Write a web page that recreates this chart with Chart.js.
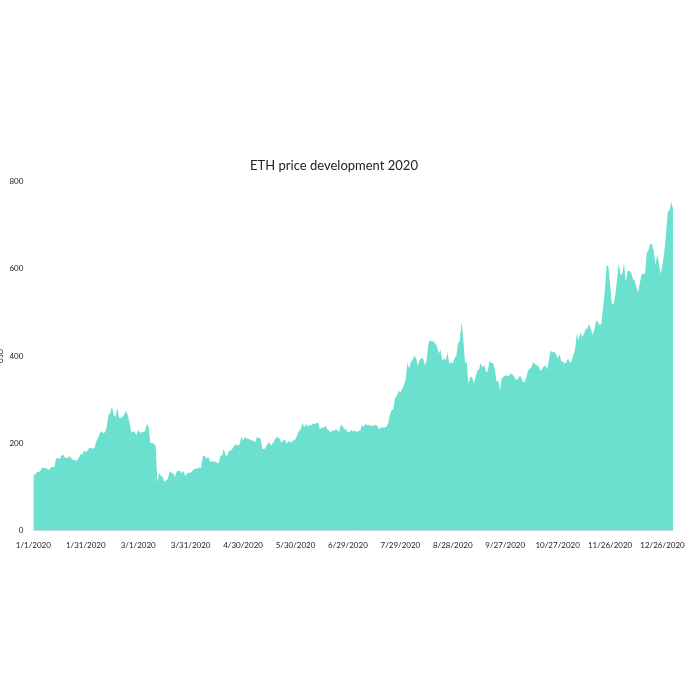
<!DOCTYPE html>
<html>
<head>
<meta charset="utf-8">
<script src="https://cdn.jsdelivr.net/npm/chart.js@4"></script>
<style>
  html, body { margin: 0; background: #fff; }
  #wrap { width: 700px; height: 700px; }
</style>
</head>
<body>
<div id="wrap"><canvas id="chart"></canvas></div>
<script>
// daily ETH closes 2020, month by month (USD)
const jan = [130,127,134,134,136,144,143,143,141,138,144,146,144,165,166,163,171,174,167,166,167,170,163,162,161,160,167,175,173,184,180];
const feb = [183,189,189,188,189,204,212,223,228,223,225,237,265,268,285,265,260,282,259,258,260,265,274,265,248,225,227,226,218];
const mar = [231,224,225,225,228,244,238,200,201,199,194,110,133,125,123,111,115,118,136,132,131,123,135,136,137,131,136,125,131,132,133];
const apr = [136,141,142,142,144,143,170,172,164,170,158,158,158,158,156,153,171,172,187,171,171,183,183,188,194,197,195,197,215,206,214];
const may = [211,210,208,207,205,202,214,212,211,188,186,190,199,202,194,200,207,214,213,210,201,207,209,199,206,201,204,207,209,219,228];
const jun = [232,247,237,244,239,241,241,245,244,246,247,232,236,235,240,233,229,225,229,228,232,229,226,243,239,232,232,225,226,230];
const jul = [226,230,225,229,228,241,238,244,241,242,240,240,240,243,238,232,236,236,236,238,245,265,275,279,305,308,320,317,324,333,345];
const aug = [385,371,386,390,401,395,378,391,395,395,379,389,428,436,433,434,428,422,406,415,388,395,391,408,382,386,382,395,400,428,435];
const sep = [478,440,385,385,335,353,351,337,351,366,369,384,373,380,364,365,389,384,384,371,341,344,321,349,352,355,355,353,360,359];
const oct = [353,346,346,353,353,341,340,350,366,371,374,386,381,379,377,366,369,376,379,369,391,413,408,410,405,394,404,389,387,383,386];
const nov = [395,384,388,403,416,453,436,454,444,450,462,463,474,462,449,460,481,478,471,474,512,550,608,606,567,519,520,540,575,613];
const dec = [586,589,614,570,595,595,592,577,573,560,545,567,587,588,589,636,643,658,656,640,610,634,610,588,610,638,680,730,734,754,738];

const prices = [].concat(jan, feb, mar, apr, may, jun, jul, aug, sep, oct, nov, dec);
const yTicks = [0, 200, 400, 600, 800];

const labels = prices.map((_, i) => {
    const d = new Date(2020, 0, 1 + i);
    return (d.getMonth() + 1) + "/" + d.getDate() + "/2020";
});

const font = "Lato, 'Noto Sans', sans-serif";

new Chart(document.getElementById("chart"), {
    type: "line",
    data: {
        labels,
        datasets: [{
            data: prices,
            fill: "origin",
            backgroundColor: "#6be0cf",
            borderWidth: 0,
            pointRadius: 0,
            tension: 0
        }]
    },
    options: {
        responsive: true,
        maintainAspectRatio: false,
        animation: false,
        layout: { padding: { top: 158, bottom: 148, left: -5, right: 27 } },
        plugins: {
            legend: { display: false },
            tooltip: { enabled: false },
            title: {
                display: true,
                text: "ETH price development 2020",
                color: "#222",
                font: { family: font, size: 13, weight: "normal" },
                padding: { top: 0, bottom: 8 }
            }
        },
        scales: {
            x: {
                grid: { display: false },
                border: { color: "#ddd" },
                ticks: {
                    autoSkip: false,
                    maxRotation: 0,
                    color: "#222",
                    font: { family: font, size: 8 },
                    padding: 2,
                    callback: (v, i) => i % 30 === 0 ? labels[i] : null
                }
            },
            y: {
                min: 0,
                max: 800,
                afterBuildTicks: axis => { axis.ticks = yTicks.map(v => ({ value: v })); },
                grid: { display: false },
                border: { display: false },
                ticks: {
                    color: "#222",
                    padding: 2,
                    font: { family: font, size: 8 }
                },
                title: {
                    display: true,
                    text: "USD",
                    color: "#222",
                    padding: 2,
                    font: { family: font, size: 7 }
                }
            }
        }
    }
});
</script>
</body>
</html>
